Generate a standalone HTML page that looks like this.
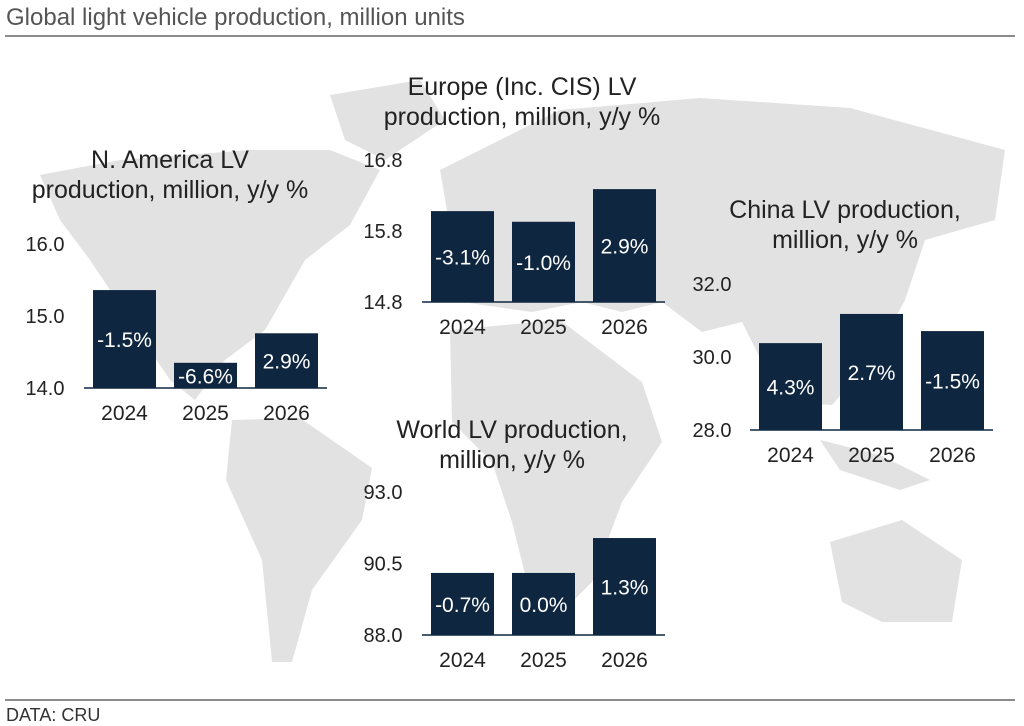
<!DOCTYPE html>
<html><head><meta charset="utf-8"><style>
body{margin:0;background:#fff;}
svg{display:block;font-family:"Liberation Sans",Arial,sans-serif;}
</style></head><body>
<svg id="root" width="1024" height="726" viewBox="0 0 1024 726">
<text x="6" y="25" font-size="24" fill="#555">Global light vehicle production, million units</text>
<line x1="5" y1="36" x2="1015" y2="36" stroke="#666" stroke-width="1.5"/>
<g fill="#e2e2e2">
<polygon points="40,175 120,160 250,150 330,150 380,170 350,225 305,260 265,330 225,360 195,400 170,380 130,320 90,260 60,220"/>
<polygon points="330,95 420,80 445,120 385,160 345,140"/>
<polygon points="232,420 300,418 372,468 362,520 312,590 292,662 272,662 262,560 226,480"/>
<polygon points="440,170 560,110 700,98 850,108 1005,150 995,220 925,240 905,300 872,360 832,405 782,402 742,322 702,332 662,302 622,312 582,302 532,312 462,302 452,240"/>
<polygon points="450,330 560,320 642,382 662,442 622,502 592,582 562,612 532,602 512,522 492,462 452,422"/>
<polygon points="830,542 902,520 962,560 952,622 882,622 842,602"/>
<polygon points="820,440 880,455 930,480 900,490 840,470"/>
</g>
<line x1="5" y1="700" x2="1015" y2="700" stroke="#666" stroke-width="1.5"/>
<text x="6" y="721" font-size="18" fill="#333">DATA: CRU</text>
<g id="charts"></g>
</svg>
<script>
const years = ["2024","2025","2026"];
const naValues = [15.36, 14.35, 14.76];
const naLabels = ["-1.5%","-6.6%","2.9%"];
const naTicks = [14.0, 15.0, 16.0];
const euValues = [16.08, 15.93, 16.39];
const euLabels = ["-3.1%","-1.0%","2.9%"];
const euTicks = [14.8, 15.8, 16.8];
const cnValues = [30.38, 31.18, 30.71];
const cnLabels = ["4.3%","2.7%","-1.5%"];
const cnTicks = [28.0, 30.0, 32.0];
const wdValues = [90.17, 90.17, 91.39];
const wdLabels = ["-0.7%","0.0%","1.3%"];
const wdTicks = [88.0, 90.5, 93.0];

const NS="http://www.w3.org/2000/svg";
const host=document.getElementById('charts');
function mk(tag,attrs,parent){const e=document.createElementNS(NS,tag);for(const k in attrs)e.setAttribute(k,attrs[k]);parent.appendChild(e);return e;}

function drawChart(cfg){
  const g=mk('g',{},host);
  
  
  const lo=cfg.ticks[0], hi=cfg.ticks[cfg.ticks.length-1];
  const y=v=>cfg.y0-(v-lo)/(hi-lo)*(cfg.y0-cfg.y1);
  cfg.title.forEach((t,i)=>{
    const e=mk('text',{x:cfg.tx,y:cfg.ty+i*30,'font-size':25,'text-anchor':'middle',fill:'#222'},g);
    e.textContent=t;
    
    
  });
  cfg.ticks.forEach(t=>{
    const e=mk('text',{x:cfg.tickX,y:y(t)+7,'font-size':20,'text-anchor':'middle',fill:'#222'},g);
    e.textContent=t.toFixed(1);
    
    
  });
  const band=(cfg.ax2-cfg.ax1)/years.length, bw=63;
  cfg.values.forEach((v,i)=>{
    const cx=cfg.ax1+band*(i+0.5);
    const top=y(v);
    const r=mk('rect',{x:cx-bw/2,y:top,width:bw,height:cfg.y0-top,fill:'#0f2640'},g);
    
    
    const l=mk('text',{x:cx,y:(top+cfg.y0)/2+8,'font-size':21,'text-anchor':'middle',fill:'#fff'},g);
    l.textContent=cfg.labels[i];
    
    
    const yl=mk('text',{x:cx,y:cfg.y0+32,'font-size':21,'text-anchor':'middle',fill:'#222'},g);
    yl.textContent=years[i];
    
    
  });
  const ax=mk('line',{x1:cfg.ax1,y1:cfg.y0,x2:cfg.ax2,y2:cfg.y0,stroke:'#0f2640','stroke-width':1.5},g);
  
  
}
drawChart({name:'north-america-chart',values:naValues,labels:naLabels,ticks:naTicks,y0:388,y1:244,ax1:84,ax2:327,tickX:45,title:["N. America LV","production, million, y/y %"],tx:170,ty:168});
drawChart({name:'europe-chart',values:euValues,labels:euLabels,ticks:euTicks,y0:302,y1:160,ax1:422,ax2:665,tickX:383,title:["Europe (Inc. CIS) LV","production, million, y/y %"],tx:522,ty:95});
drawChart({name:'china-chart',values:cnValues,labels:cnLabels,ticks:cnTicks,y0:430,y1:284,ax1:750,ax2:993,tickX:712,title:["China LV production,","million, y/y %"],tx:845,ty:218});
drawChart({name:'world-chart',values:wdValues,labels:wdLabels,ticks:wdTicks,y0:635,y1:492,ax1:422,ax2:665,tickX:383,title:["World LV production,","million, y/y %"],tx:512,ty:438});
</script>
</body></html>
